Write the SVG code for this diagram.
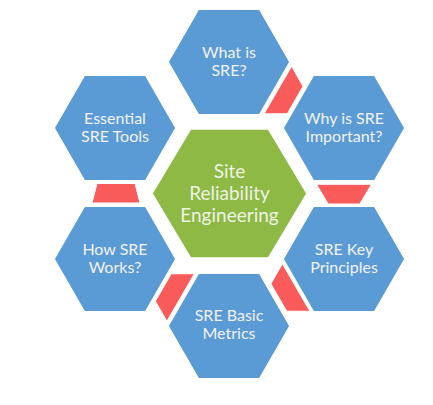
<svg xmlns="http://www.w3.org/2000/svg" width="433" height="405" viewBox="0 0 433 405">
<style>
.hex{fill:#5B9BD5;stroke:#ffffff;stroke-width:1.5}
.core{fill:#8DB944;stroke:#ffffff;stroke-width:1.5}
.conn{fill:#F95B5B;stroke:#ffffff;stroke-width:1}
.t{font-family:Lato,"Open Sans","Liberation Sans",sans-serif;font-size:16px;fill:#F2F2F2;text-anchor:middle}
.tc{font-family:Lato,"Open Sans","Liberation Sans",sans-serif;font-size:19px;fill:#EEF3E4;text-anchor:middle}
</style>
<rect width="433" height="405" fill="#ffffff"/>
<g id="connectors">
<polygon class="conn" points="264.1,113.8 291.6,66.2 303,86.3 287.3,113.7"/>
<polygon class="conn" points="316.5,184.3 371.5,184.3 359.8,204 328.2,204"/>
<polygon class="conn" points="282.4,263.7 309.9,311.3 286.7,311.2 270.9,283.8"/>
<polygon class="conn" points="194.4,273.7 166.9,321.3 155.4,301.2 171.2,273.8"/>
<polygon class="conn" points="97,183.5 135,183.5 140,203 92,203"/>
</g>
<g id="node-what">
<polygon class="hex" points="168,62 198.5,9.2 259.5,9.2 290,62 259.5,114.8 198.5,114.8"/>
<text class="t" x="229" y="58">What is</text>
<text class="t" x="229" y="76">SRE?</text>
</g>
<g id="node-why">
<polygon class="hex" points="283,128 313.5,75.2 374.5,75.2 405,128 374.5,180.8 313.5,180.8"/>
<text class="t" x="344" y="124">Why is SRE</text>
<text class="t" x="344" y="142">Important?</text>
</g>
<g id="node-key">
<polygon class="hex" points="283,259 313.5,206.2 374.5,206.2 405,259 374.5,311.8 313.5,311.8"/>
<text class="t" x="344" y="255">SRE Key</text>
<text class="t" x="344" y="273">Principles</text>
</g>
<g id="node-metrics">
<polygon class="hex" points="168,326 198.5,273.2 259.5,273.2 290,326 259.5,378.8 198.5,378.8"/>
<text class="t" x="229" y="321">SRE Basic</text>
<text class="t" x="229" y="339">Metrics</text>
</g>
<g id="node-works">
<polygon class="hex" points="54,259 84.5,206.2 145.5,206.2 176,259 145.5,311.8 84.5,311.8"/>
<text class="t" x="115" y="255">How SRE</text>
<text class="t" x="115" y="273">Works?</text>
</g>
<g id="node-tools">
<polygon class="hex" points="54,128 84.5,75.2 145.5,75.2 176,128 145.5,180.8 84.5,180.8"/>
<text class="t" x="115" y="124">Essential</text>
<text class="t" x="115" y="142">SRE Tools</text>
</g>
<g id="node-sre">
<polygon class="core" points="152,193.5 190.5,129 268.5,129 307,193.5 268.5,258 190.5,258"/>
<text class="tc" x="229.5" y="178">Site</text>
<text class="tc" x="229.5" y="200">Reliability</text>
<text class="tc" x="229.5" y="222">Engineering</text>
</g>
</svg>
